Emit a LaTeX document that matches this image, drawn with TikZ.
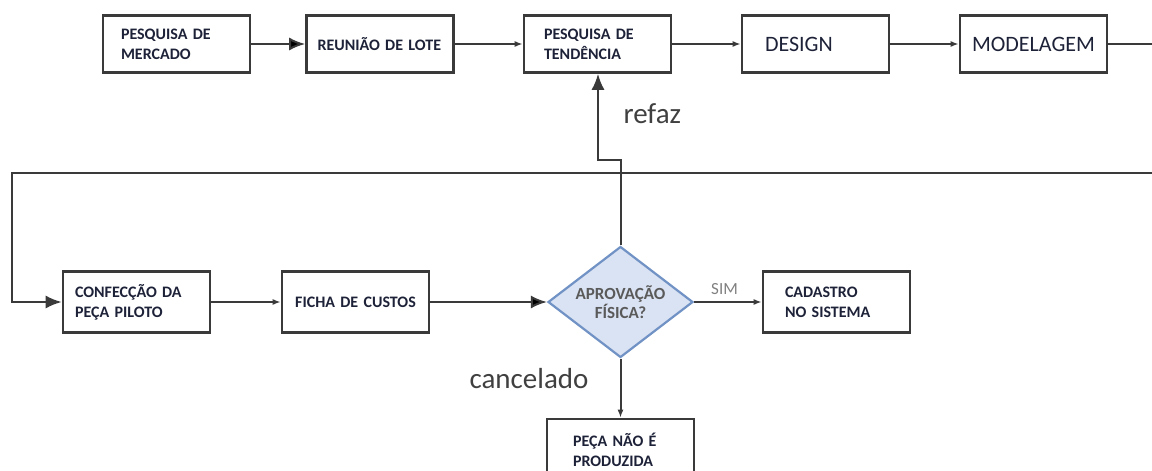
\documentclass[tikz,border=0pt]{standalone}
\usepackage{fontspec}
\setmainfont{Carlito}
\usepackage{tikz}
\usetikzlibrary{shapes.geometric}
\usetikzlibrary{arrows.meta}
\usetikzlibrary{positioning}

\definecolor{linegray}{HTML}{3A3A3A}
\definecolor{boxtext}{HTML}{1E2238}
\definecolor{diafill}{HTML}{DAE3F3}
\definecolor{diadraw}{HTML}{7192C4}
\definecolor{diatext}{HTML}{5A5A5A}
\definecolor{notetext}{HTML}{404040}
\definecolor{simtext}{HTML}{808080}

\begin{document}
\begin{tikzpicture}
[x=1pt,y=-1pt,every node/.style={font=\bfseries\fontsize{16}{20}\selectfont,text=boxtext},
  bigarrow/.style = {-{Latex[length=16pt,width=13pt]},draw=linegray,line width=2pt},
  smallarrow/.style = {-{Latex[length=8pt,width=6pt]},draw=linegray,line width=2pt},
  plain/.style = {draw=linegray,line width=2pt},
  r/.style = {rectangle,draw=linegray,line width=2.6pt,minimum width=147pt,
        minimum height=57pt,inner sep=0pt,text width=#1,align=left},
  r/.default=111pt,
  rr/.style = {r=#1,minimum height=61pt},
  rr/.default=111pt,
  d/.style = {diamond,draw=diadraw,fill=diafill,line width=2.2pt,aspect=1.3,inner sep=0pt,
        minimum width=145pt,minimum height=111pt,align=center,text=diatext,
        font=\bfseries\fontsize{17}{19}\selectfont},
  big/.style = {font=\fontsize{29}{34}\selectfont,text=notetext},
  large/.style = {font=\fontsize{22}{26}\selectfont}]
%
\clip (0,0) rectangle (1152,471);
%
% top row
\node[r=111pt] (PM) at (176.5,44) {PESQUISA DE\\MERCADO};
\node[r=125pt] (RL) at (380,44) {REUNIÃO DE LOTE};
\node[r=107pt] (PT) at (597.5,44) {PESQUISA DE\\TENDÊNCIA};
\node[r=101pt,large] (DES) at (815.5,44) {DESIGN};
\node[r=125pt,large,align=center] (MOD) at (1033.5,44) {MODELAGEM};
%
% bottom row
\node[rr=123pt] (CP) at (136.5,302) {CONFECÇÃO DA\\PEÇA PILOTO};
\node[rr=125pt,align=center] (FC) at (355.5,302) {FICHA DE CUSTOS};
\node[d] (AF) at (620.5,302) {APROVAÇÃO\\FÍSICA?};
\node[rr=103pt] (CS) at (836.5,302) {CADASTRO\\NO SISTEMA};
\node[rr=95pt] (PN) at (620.5,449.5) {PEÇA NÃO É\\PRODUZIDA};
%
\node[big,anchor=base west] (refaz) at (620,123) {refaz};
\node[big,anchor=base east] (canc) at (592,388) {cancelado};
%
\coordinate (outR) at (1152,44);
\coordinate (inR) at (1152,173);
\coordinate (loopL) at (12,173);
\coordinate (jog) at (598,160);
%
   \path[bigarrow] (PM) edge (RL) ;
   \path[smallarrow] (RL) edge (PT) ;
   \path[smallarrow] (PT) edge (DES) ;
   \path[smallarrow] (DES) edge (MOD) ;
   \draw[plain] (MOD) -- (outR) ;
   \draw[bigarrow] (inR) -- (loopL) |- (CP) ;
   \path[smallarrow] (CP) edge (FC) ;
   \path[bigarrow] (FC) edge (AF) ;
   \path[smallarrow] (AF) edge node[pos=0.45,above=3pt,font=\fontsize{17}{20}\selectfont,text=simtext] {SIM} (CS) ;
   \path[smallarrow] (AF) edge (PN) ;
   \draw[bigarrow] (AF.north) |- (jog) -- (jog |- PT.south) ;
%
\end{tikzpicture}
\end{document}
